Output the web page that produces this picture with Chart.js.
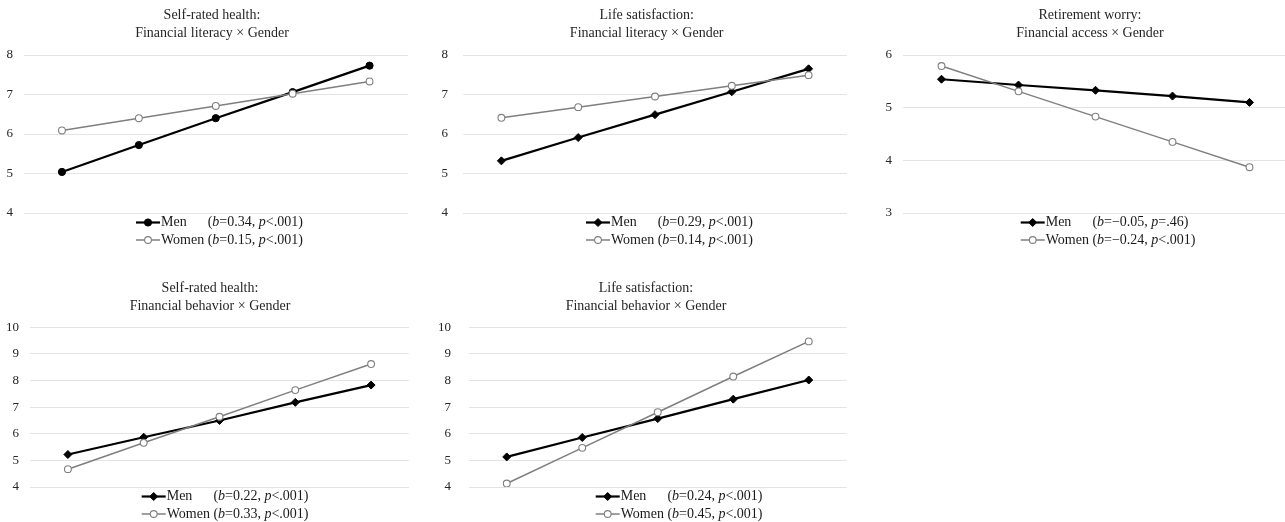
<!DOCTYPE html>
<html><head><meta charset="utf-8">
<script src="https://cdn.jsdelivr.net/npm/chart.js@4/dist/chart.umd.min.js"></script>
<style>
html,body{margin:0;padding:0;width:1285px;height:522px;overflow:hidden;background:#fff;}
.panel{position:absolute;}
</style></head><body>
<div class="panel" id="w1"><canvas id="c1"></canvas></div>
<div class="panel" id="w2"><canvas id="c2"></canvas></div>
<div class="panel" id="w3"><canvas id="c3"></canvas></div>
<div class="panel" id="w4"><canvas id="c4"></canvas></div>
<div class="panel" id="w5"><canvas id="c5"></canvas></div>
<script>
// ---------- DATA ----------
const levels = ['1', '2', '3', '4', '5'];

const titleSRH_FL = ['Self-rated health:', 'Financial literacy × Gender'];
const titleLS_FL  = ['Life satisfaction:', 'Financial literacy × Gender'];
const titleRW_FA  = ['Retirement worry:', 'Financial access × Gender'];
const titleSRH_FB = ['Self-rated health:', 'Financial behavior × Gender'];
const titleLS_FB  = ['Life satisfaction:', 'Financial behavior × Gender'];

const menSRH_FL   = [5.04, 5.72, 6.40, 7.06, 7.73];
const womenSRH_FL = [6.09, 6.40, 6.71, 7.02, 7.33];
const menLS_FL    = [5.32, 5.91, 6.49, 7.07, 7.65];
const womenLS_FL  = [6.41, 6.68, 6.95, 7.22, 7.49];
const menRW_FA    = [5.54, 5.43, 5.33, 5.22, 5.10];
const womenRW_FA  = [5.79, 5.31, 4.83, 4.35, 3.87];
const menSRH_FB   = [5.22, 5.87, 6.50, 7.18, 7.83];
const womenSRH_FB = [4.67, 5.66, 6.64, 7.64, 8.62];
const menLS_FB    = [5.13, 5.86, 6.57, 7.30, 8.02];
const womenLS_FB  = [4.13, 5.47, 6.81, 8.15, 9.47];

const seriesNames = ['Men', 'Women'];
const menStats   = ['(b=0.34, p<.001)', '(b=0.29, p<.001)', '(b=−0.05, p=.46)', '(b=0.22, p<.001)', '(b=0.24, p<.001)'];
const womenStats = ['(b=0.15, p<.001)', '(b=0.14, p<.001)', '(b=−0.24, p<.001)', '(b=0.33, p<.001)', '(b=0.45, p<.001)'];

const yMins = [4, 4, 3, 4, 4];
const yMaxs = [8, 8, 6, 10, 10];

// ---------- LAYOUT / STYLE ----------
const FONT = "'Liberation Serif', 'Times New Roman', serif";
// box: [left, top, width, height]; pad: [left, right, top, bottom]
const panels = [
  {id:'c1', box:[0, 0, 420, 250],     pad:[0, 12, 55, 37],     axisW:23.5, tickPad:10.5, titleX:212,   titleY:15, legX:136,   statAlign:'right', menMarker:'circle'},
  {id:'c2', box:[430, 0, 430, 250],   pad:[0, 13, 55, 37],     axisW:33,   tickPad:15,   titleX:216.7, titleY:15, legX:156,   statAlign:'right', menMarker:'rectRot'},
  {id:'c3', box:[865, 0, 433, 250],   pad:[0, 10, 55, 37],     axisW:38,   tickPad:11,   titleX:225,   titleY:15, legX:155.7, statAlign:'left',  menMarker:'rectRot'},
  {id:'c4', box:[0, 260, 420, 262],   pad:[0, 11, 67.3, 35],   axisW:30,   tickPad:11,   titleX:210,   titleY:28, legX:141.7, statAlign:'right', menMarker:'rectRot'},
  {id:'c5', box:[430, 260, 430, 262], pad:[0, 13.5, 67.3, 35], axisW:39,   tickPad:18,   titleX:216,   titleY:28, legX:165.7, statAlign:'right', menMarker:'rectRot'}
];
const titles = [titleSRH_FL, titleLS_FL, titleRW_FA, titleSRH_FB, titleLS_FB];
const menData = [menSRH_FL, menLS_FL, menRW_FA, menSRH_FB, menLS_FB];
const womenData = [womenSRH_FL, womenLS_FL, womenRW_FA, womenSRH_FB, womenLS_FB];

function parseStat(s) {
  const segs = [];
  const re = /([bp])(?=[=<])/g;
  let last = 0, m;
  while ((m = re.exec(s)) !== null) {
    if (m.index > last) segs.push({t: s.slice(last, m.index), i: false});
    segs.push({t: m[1], i: true});
    last = m.index + 1;
  }
  if (last < s.length) segs.push({t: s.slice(last), i: false});
  return segs;
}
function segFont(it) { return (it ? 'italic ' : '') + '14px ' + FONT; }
function measureSegs(ctx, segs) {
  let w = 0;
  for (const sg of segs) { ctx.font = segFont(sg.i); w += ctx.measureText(sg.t).width; }
  return w;
}
function drawSegs(ctx, segs, x, y) {
  for (const sg of segs) { ctx.font = segFont(sg.i); ctx.fillText(sg.t, x, y); x += ctx.measureText(sg.t).width; }
}
function drawMarker(ctx, ds, cx, cy) {
  ctx.save();
  ctx.fillStyle = ds.pointBackgroundColor;
  ctx.strokeStyle = ds.pointBorderColor;
  ctx.lineWidth = ds.pointBorderWidth;
  ctx.beginPath();
  const r = ds.pointRadius;
  if (ds.pointStyle === 'rectRot') {
    ctx.moveTo(cx, cy - r); ctx.lineTo(cx + r, cy); ctx.lineTo(cx, cy + r); ctx.lineTo(cx - r, cy); ctx.closePath();
  } else {
    ctx.arc(cx, cy, r, 0, Math.PI * 2);
  }
  ctx.fill(); ctx.stroke();
  ctx.restore();
}

const panelTitle = {
  id: 'panelTitle',
  afterDraw(chart, args, opts) {
    const ctx = chart.ctx;
    ctx.save();
    ctx.font = '14px ' + FONT;
    ctx.fillStyle = '#262626';
    ctx.textAlign = 'center';
    ctx.textBaseline = 'middle';
    opts.lines.forEach((t, i) => ctx.fillText(t, opts.x, opts.y + i * 18));
    ctx.restore();
  }
};

const richLegend = {
  id: 'richLegend',
  afterDraw(chart, args, opts) {
    const ctx = chart.ctx, ca = chart.chartArea;
    const dsMen = chart.data.datasets[0], dsWomen = chart.data.datasets[1];
    const x0 = opts.x, symW = 24;
    const yMen = ca.bottom + 9.5, yWomen = ca.bottom + 27;
    ctx.save();
    ctx.textBaseline = 'middle';
    ctx.textAlign = 'left';
    const menSegs = parseStat(dsMen.stat), womenSegs = parseStat(dsWomen.stat);
    ctx.font = segFont(false);
    const labX = x0 + symW + 1;
    const womenLabW = ctx.measureText(dsWomen.label + ' ').width;
    const womenStatX = labX + womenLabW;
    const womenEnd = womenStatX + measureSegs(ctx, womenSegs);
    [[dsMen, yMen], [dsWomen, yWomen]].forEach(([ds, y]) => {
      ctx.save();
      ctx.strokeStyle = ds.borderColor; ctx.lineWidth = ds.borderWidth;
      ctx.beginPath(); ctx.moveTo(x0, y); ctx.lineTo(x0 + symW, y); ctx.stroke();
      ctx.restore();
      drawMarker(ctx, ds, x0 + symW / 2, y);
    });
    ctx.fillStyle = '#1a1a1a';
    ctx.font = segFont(false);
    ctx.fillText(dsMen.label, labX, yMen);
    ctx.fillText(dsWomen.label, labX, yWomen);
    const menStatX = opts.statAlign === 'right' ? womenEnd - measureSegs(ctx, menSegs) : womenStatX;
    drawSegs(ctx, menSegs, menStatX, yMen);
    drawSegs(ctx, womenSegs, womenStatX, yWomen);
    ctx.restore();
  }
};

panels.forEach((p, k) => {
  const wrap = document.getElementById(p.id).parentNode;
  wrap.style.left = p.box[0] + 'px'; wrap.style.top = p.box[1] + 'px';
  wrap.style.width = p.box[2] + 'px'; wrap.style.height = p.box[3] + 'px';
  const menCircle = p.menMarker === 'circle';
  new Chart(document.getElementById(p.id), {
    type: 'line',
    data: {
      labels: levels,
      datasets: [
        {label: seriesNames[0], data: menData[k], stat: menStats[k], order: 1,
         borderColor: '#000', backgroundColor: '#000', borderWidth: 2.2,
         pointStyle: p.menMarker, pointRadius: menCircle ? 3.6 : 4, pointBorderWidth: 1,
         pointBackgroundColor: '#000', pointBorderColor: '#000', tension: 0, fill: false},
        {label: seriesNames[1], data: womenData[k], stat: womenStats[k], order: 0,
         borderColor: '#7f7f7f', backgroundColor: '#fff', borderWidth: 1.5,
         pointStyle: 'circle', pointRadius: 3.4, pointBorderWidth: 1.1,
         pointBackgroundColor: '#fff', pointBorderColor: '#7f7f7f', tension: 0, fill: false}
      ]
    },
    options: {
      responsive: true, maintainAspectRatio: false, animation: false,
      events: [],
      layout: {padding: {left: p.pad[0], right: p.pad[1], top: p.pad[2], bottom: p.pad[3]}},
      plugins: {
        legend: {display: false},
        tooltip: {enabled: false},
        title: {display: false},
        panelTitle: {lines: titles[k], x: p.titleX, y: p.titleY},
        richLegend: {x: p.legX, statAlign: p.statAlign}
      },
      scales: {
        x: {type: 'category', offset: true, display: false},
        y: {min: yMins[k], max: yMaxs[k],
            ticks: {stepSize: 1, padding: p.tickPad, color: '#262626', font: {family: FONT, size: 13}},
            grid: {color: '#e4e4e4', lineWidth: 1, drawTicks: false},
            border: {display: false},
            afterFit(s) { s.width = p.axisW; }}
      }
    },
    plugins: [panelTitle, richLegend]
  });
});
</script>
</body></html>
